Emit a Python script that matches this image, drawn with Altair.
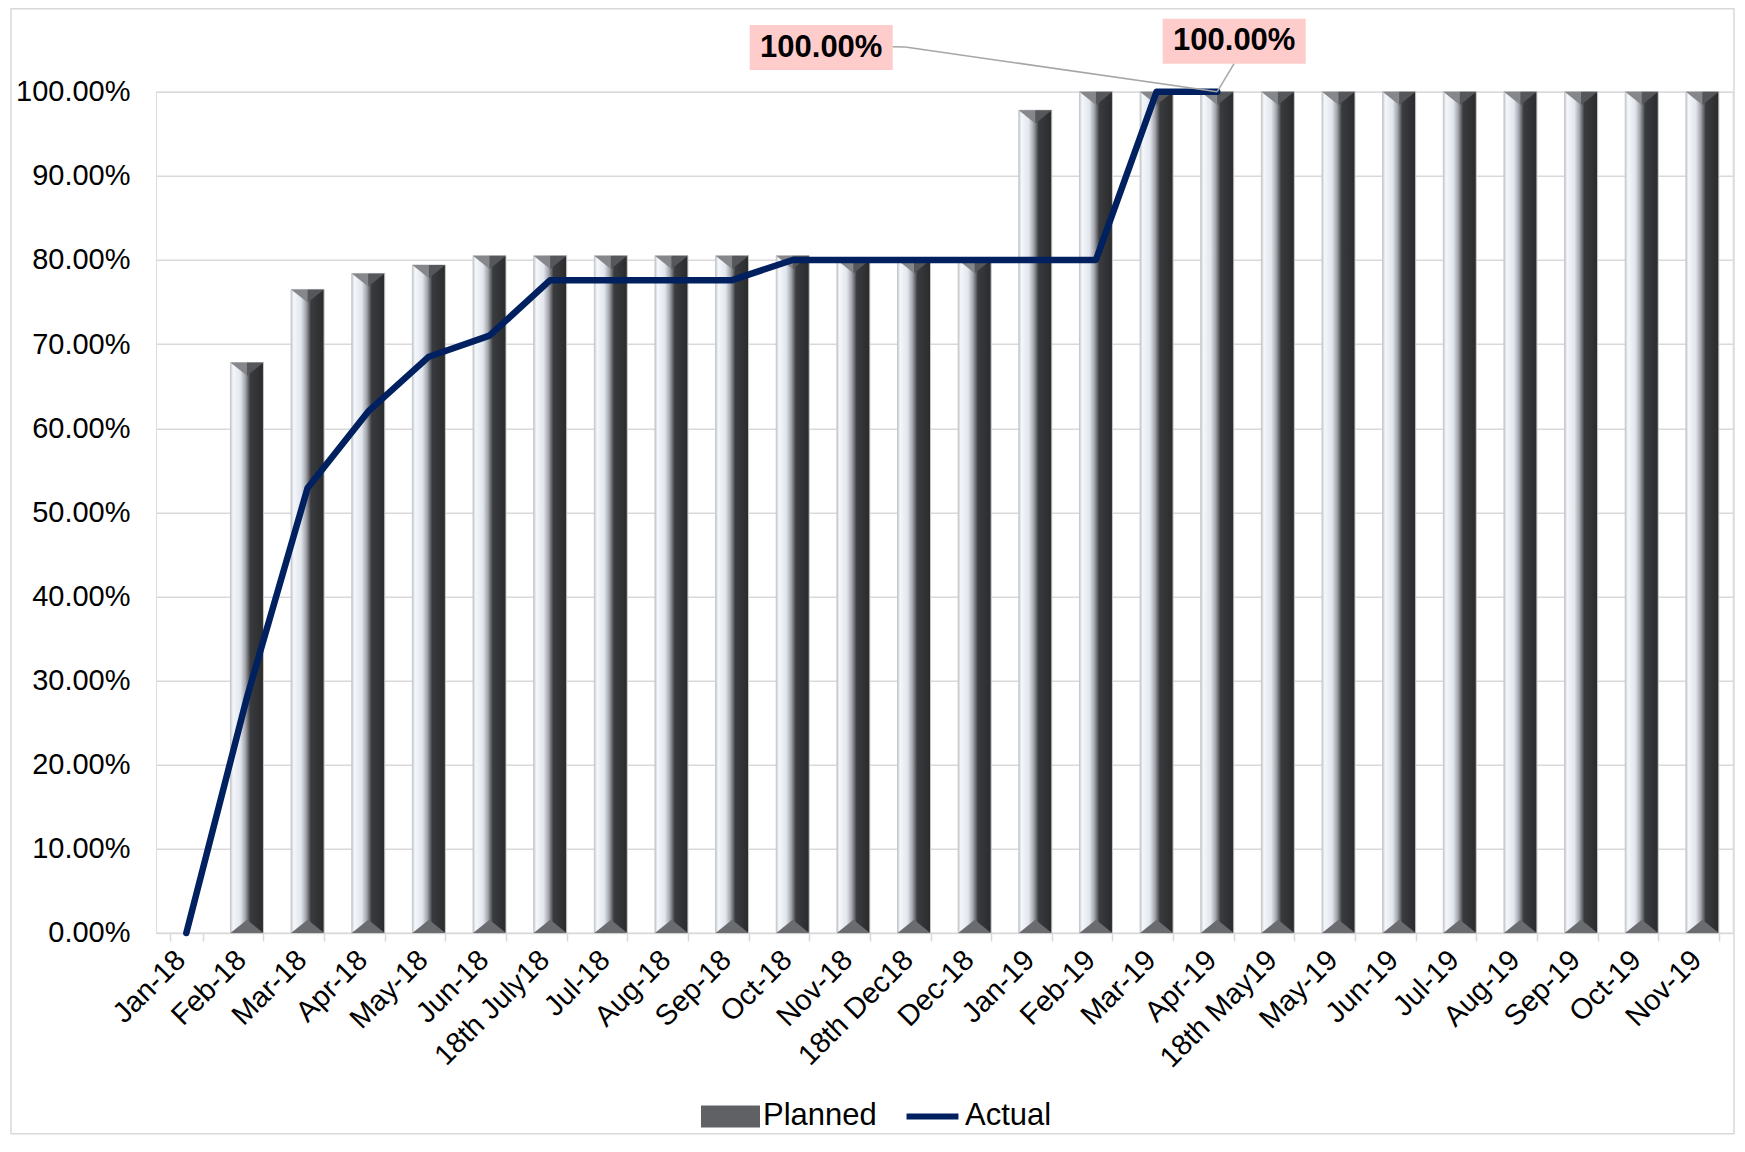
import altair as alt
import pandas as pd

categories = ["Jan-18", "Feb-18", "Mar-18", "Apr-18", "May-18", "Jun-18", "18th July18",
              "Jul-18", "Aug-18", "Sep-18", "Oct-18", "Nov-18", "18th Dec18", "Dec-18",
              "Jan-19", "Feb-19", "Mar-19", "Apr-19", "18th May19", "May-19", "Jun-19",
              "Jul-19", "Aug-19", "Sep-19", "Oct-19", "Nov-19"]
planned = [None, 0.678, 0.765, 0.784, 0.794, 0.805, 0.805, 0.805, 0.805, 0.805, 0.805,
           0.80, 0.80, 0.80, 0.978, 1.0, 1.0, 1.0, 1.0, 1.0, 1.0, 1.0, 1.0, 1.0, 1.0, 1.0]
actual = [0.0, 0.28, 0.529, 0.62, 0.685, 0.71, 0.776, 0.776, 0.776, 0.776, 0.80,
          0.80, 0.80, 0.80, 0.80, 0.80, 1.0, 1.0, None, None, None, None, None, None, None, None]
series = ["Planned", "Actual"]
label_cat = ["Apr-19"]
label_val = [1.0]
y_ticks = [0.0, 0.1, 0.2, 0.3, 0.4, 0.5, 0.6, 0.7, 0.8, 0.9, 1.0]

FONT = "Liberation Sans"

df = pd.DataFrame({"cat": categories, "planned": planned, "actual": actual})
ann = pd.DataFrame({"cat": label_cat, "val": label_val})
leg = pd.DataFrame({"series": series})

x_scale = alt.Scale(domain=categories, paddingInner=0.456, paddingOuter=0.228)
x_axis = alt.Axis(title=None, labelAngle=-45, labelFontSize=29, labelFont=FONT,
                  labelColor="#000000", labelAlign="right", labelBaseline="middle",
                  labelOffset=-6, tickBand="extent", tickColor="#d9d9d9",
                  tickSize=8, tickWidth=1.5, domainColor="#d9d9d9", domainWidth=1.5,
                  grid=False, labelPadding=14)
y_scale = alt.Scale(domain=[0, 1], nice=False, zero=True)
y_axis = alt.Axis(title=None, format=".2%", values=y_ticks, grid=True,
                  gridColor="#d9d9d9", gridWidth=1.5, domain=False, ticks=False,
                  labelFontSize=29, labelFont=FONT, labelColor="#000000",
                  labelPadding=26)


def X():
    return alt.X("cat:N", sort=categories, scale=x_scale, axis=x_axis)


def Y(field):
    return alt.Y(field + ":Q", scale=y_scale, axis=y_axis)


bar_gradient = {
    "gradient": "linear", "x1": 0, "x2": 1, "y1": 0, "y2": 0,
    "stops": [
        {"offset": 0.0, "color": "#c4c8ce"},
        {"offset": 0.08, "color": "#f4f7fb"},
        {"offset": 0.30, "color": "#e2e6ed"},
        {"offset": 0.45, "color": "#a3a6ac"},
        {"offset": 0.60, "color": "#3a3b3e"},
        {"offset": 1.0, "color": "#2a2b2d"},
    ],
}

bars = alt.Chart(df).mark_bar(color=bar_gradient, stroke="#c8c8c8", strokeWidth=1).encode(
    x=X(), y=Y("planned"))

BW = 33
tri_left = alt.Chart(df).mark_point(shape="M-1,0L0,0L0,0.8Z", size=BW * BW, filled=True,
                                    color="#85878b", opacity=1, strokeWidth=0).encode(
    x=X(), y=Y("planned"))
tri_right = alt.Chart(df).mark_point(shape="M0,0L1,0L0,0.8Z", size=BW * BW, filled=True,
                                     color="#55575b", opacity=1, strokeWidth=0).encode(
    x=X(), y=Y("planned"))
tri_bottom = alt.Chart(df).transform_filter("datum.planned != null").mark_point(
    shape="M-1,0L1,0L0,-0.8Z", size=BW * BW, filled=True, color="#6a6c70",
    opacity=1, strokeWidth=0).encode(x=X(), y=alt.datum(0))

line = alt.Chart(df).mark_line(color="#002060", strokeWidth=6.5, strokeCap="round",
                               strokeJoin="round").encode(
    x=X(), y=Y("actual"))


# leader lines of the data labels
def leader(x0, y0, x1, y1):
    return alt.Chart(ann).mark_rule(color="#a6a6a6", strokeWidth=1.5, xOffset=x0, yOffset=y0,
                                    x2Offset=x1, y2Offset=y1).encode(
        x=X(), x2=alt.X2("cat"), y=Y("val"), y2=alt.Y2("val"))


lead1 = leader(-312, -44.7, 0, 0)
lead2 = leader(-325, -45, -312, -44.7)
lead3 = leader(17, -28.4, 0, 0)

BOX = "M-1,-0.315H1V0.315H-1Z"


def label_layers(dx, dy):
    box = alt.Chart(ann).mark_point(shape=BOX, size=143 * 143, filled=True, color="#ffcccc",
                                    opacity=1, strokeWidth=0, xOffset=dx, yOffset=dy).encode(
        x=X(), y=Y("val"))
    txt = alt.Chart(ann).mark_text(font=FONT, fontSize=31, fontWeight="bold", color="#000000",
                                   dx=dx, dy=dy, align="center", baseline="middle").encode(
        x=X(), y=Y("val"), text=alt.Text("val:Q", format=".2%"))
    return [box, txt]


legend_def = alt.Legend(title=None, orient="none", legendX=545, legendY=995,
                        direction="horizontal", symbolSize=3481, symbolStrokeWidth=0,
                        symbolOpacity=1, labelFontSize=31, labelFont=FONT,
                        labelColor="#000000", labelOffset=3, columnPadding=26)
legend_layer = alt.Chart(leg).mark_point(filled=True, opacity=0).encode(
    color=alt.Color("series:N", scale=alt.Scale(domain=series, range=["#5f6165", "#002060"]),
                    legend=legend_def),
    shape=alt.Shape("series:N", scale=alt.Scale(domain=series,
                                                range=["M-1,-0.373H1V0.373H-1Z",
                                                       "M-0.88,-0.1H0.88V0.1H-0.88Z"]),
                    legend=legend_def),
)

frame = alt.Chart(pd.DataFrame({"f": [0]})).mark_rect(fillOpacity=0, stroke="#d9d9d9",
                                                      strokeWidth=1.5).encode(
    x=alt.value(-145), x2=alt.value(1578), y=alt.value(-83), y2=alt.value(1042))

chart = alt.layer(
    frame, bars, tri_left, tri_right, tri_bottom, line, lead1, lead2, lead3,
    *label_layers(-396, -44.2), *label_layers(17, -50.5), legend_layer,
).properties(
    width=1576.7, height=841.3,
    autosize=alt.AutoSizeParams(type="none"),
    padding={"left": 148, "top": 83.7, "right": 4, "bottom": 202},
).configure_view(strokeWidth=0, stroke="transparent").configure(background="#ffffff")

chart.save("out.html", embed_options={"renderer": "svg", "actions": False})
